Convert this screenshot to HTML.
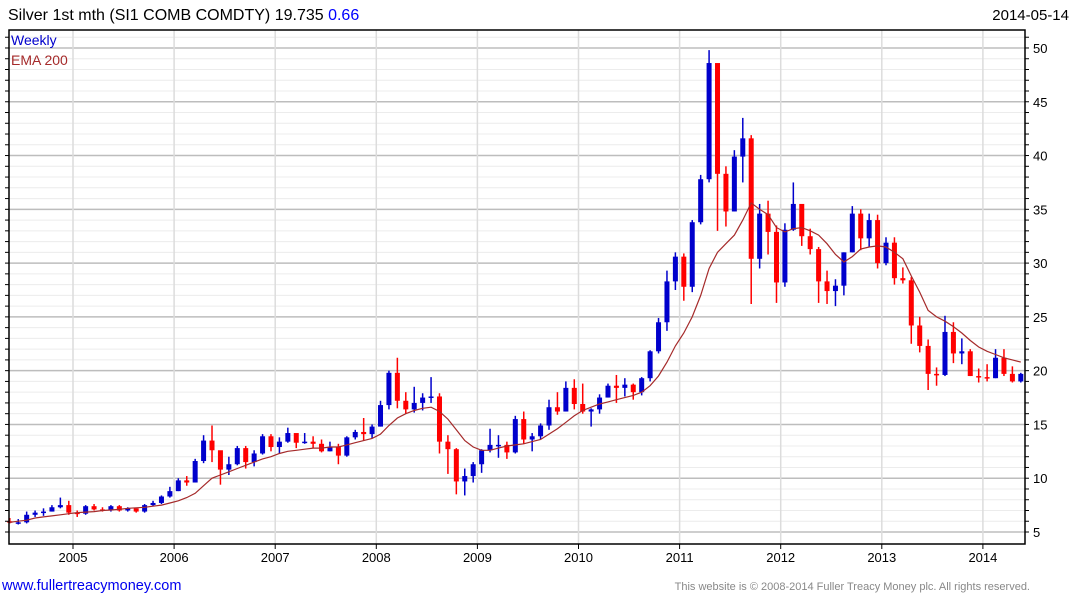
<!DOCTYPE html>
<html><head><meta charset="utf-8">
<style>
body{margin:0;background:#fff;width:1075px;height:600px;overflow:hidden;font-family:"Liberation Sans",Arial,sans-serif;}
svg{display:block}
</style></head>
<body>
<svg id="chart" width="1075" height="600" xmlns="http://www.w3.org/2000/svg" font-family="Liberation Sans, Arial, sans-serif">
<text x="8" y="20" font-size="16" fill="#000">Silver 1st mth (SI1 COMB COMDTY) 19.735 <tspan fill="#0000ff">0.66</tspan></text>
<text x="1069" y="20" font-size="15" fill="#000" text-anchor="end">2014-05-14</text>
<g id="grid"></g>
<g id="marks"></g>
<g id="axes"></g>
<text x="11" y="45" font-size="14" fill="#0000cc">Weekly</text>
<text x="11" y="65" font-size="14" fill="#a52a2a">EMA 200</text>
<text x="2" y="590" font-size="14.5" fill="#0000ee">www.fullertreacymoney.com</text>
<text x="1030" y="590" font-size="11" fill="#888" text-anchor="end">This website is © 2008-2014 Fuller Treacy Money plc. All rights reserved.</text>
</svg>
<script>
const startYear = 2004, startMonth = 5;
const closes = [5.9,5.9,6.6,6.8,6.9,7.3,7.5,6.8,
6.7,7.4,7.1,7.0,7.4,7.0,7.2,6.9,7.5,7.7,8.3,8.8,
9.8,9.6,11.6,13.5,12.6,10.8,11.3,12.8,11.5,12.3,13.9,12.9,
13.4,14.2,13.3,13.4,13.2,12.5,12.9,12.1,13.8,14.3,14.1,14.8,
16.8,19.8,17.2,16.4,17.0,17.5,17.6,13.4,12.7,9.7,10.2,11.3,
12.6,13.1,13.1,12.4,15.5,13.6,13.9,14.9,16.6,16.2,18.4,16.9,
16.2,16.4,17.5,18.6,18.4,18.7,18.0,19.3,21.8,24.5,28.3,30.6,
27.8,33.8,37.8,48.6,38.3,34.8,39.9,41.6,30.4,34.6,32.9,28.2,
33.1,35.5,32.5,31.3,28.3,27.4,27.9,31.0,34.6,32.3,34.0,30.0,
31.9,28.6,28.4,24.2,22.3,19.7,19.6,23.6,21.6,21.8,19.5,19.4,
19.3,21.2,19.7,19.0,19.7];
const highs = [6.3,6.2,6.9,7.0,7.2,7.5,8.2,7.9,
7.0,7.5,7.6,7.3,7.5,7.5,7.3,7.2,7.6,7.9,8.4,9.2,
10.0,10.2,11.8,14.0,14.9,12.5,12.0,13.0,13.0,12.6,14.1,14.1,
13.8,14.7,14.1,14.2,13.9,13.6,13.4,13.2,13.9,14.5,15.6,15.0,
17.2,20.0,21.2,18.0,18.5,17.9,19.4,17.9,14.0,12.8,10.9,11.5,
12.7,14.6,14.0,13.4,15.8,16.2,14.2,15.1,17.3,18.0,19.0,19.2,
18.8,16.5,17.8,18.8,19.6,19.3,18.8,19.4,21.9,24.9,29.3,31.0,
30.9,34.0,38.2,49.8,48.5,39.0,40.5,43.5,41.9,35.5,35.8,33.5,
33.7,37.5,35.4,33.2,31.5,29.3,28.5,31.0,35.3,35.0,34.6,34.5,
32.4,32.4,29.6,28.7,25.0,22.9,20.3,25.1,24.5,23.0,22.0,20.2,
20.6,22.0,22.0,20.4,19.8];
const lows = [5.8,5.7,5.8,6.4,6.5,6.9,7.2,6.6,
6.4,6.6,7.0,6.9,6.9,6.9,6.9,6.8,6.8,7.4,7.6,8.2,
8.8,9.3,9.6,11.4,11.5,9.4,10.3,11.2,10.9,11.1,12.2,12.5,
12.3,13.3,12.8,13.2,12.8,12.4,12.5,11.3,12.0,13.6,13.5,13.7,
14.8,16.4,16.5,16.0,16.1,16.3,17.0,12.3,10.4,8.5,8.4,9.6,
10.5,12.4,11.9,11.8,12.3,13.2,12.5,13.6,14.5,15.9,16.2,16.4,
16.0,14.8,16.0,17.5,17.0,17.6,17.3,17.7,19.0,21.6,23.7,27.5,
26.5,27.3,33.6,37.5,33.0,33.4,34.8,37.5,26.2,29.5,30.8,26.3,
27.8,33.0,31.6,30.8,26.3,26.2,26.0,27.0,31.0,31.2,31.5,29.5,
29.8,28.0,28.1,22.5,21.7,18.2,18.6,19.5,20.7,20.6,19.5,18.9,
19.0,19.3,19.5,18.9,18.9];
const ema200 = [5.9,6.0,6.1,6.3,6.4,6.5,6.6,6.7,
6.8,6.85,6.9,7.0,7.05,7.1,7.2,7.25,7.3,7.4,7.5,7.7,
7.9,8.2,8.6,9.3,10.0,10.3,10.6,10.9,11.2,11.5,11.8,12.0,
12.3,12.5,12.6,12.7,12.8,12.8,12.9,12.9,13.1,13.3,13.5,13.7,
14.1,14.9,15.6,16.0,16.3,16.5,16.6,16.2,15.5,14.5,13.5,12.9,
12.6,12.6,12.8,13.0,13.1,13.2,13.4,13.6,14.1,14.6,15.2,15.8,
16.3,16.6,16.9,17.1,17.3,17.5,17.7,18.0,18.6,19.5,20.8,22.3,
23.5,25.0,27.0,29.5,31.0,31.8,32.6,34.0,35.6,35.0,34.5,33.3,
32.9,33.2,33.3,33.0,32.6,31.8,30.8,30.1,30.6,31.3,31.5,31.6,
31.5,31.0,30.4,28.8,27.3,25.6,25.0,24.6,24.1,23.5,22.8,22.2,
21.8,21.5,21.2,21.0,20.8];
const yTicks = [5,10,15,20,25,30,35,40,45,50];
const xTicks = [2005,2006,2007,2008,2009,2010,2011,2012,2013,2014];
const firstOpen = 6.0;

const NS = "http://www.w3.org/2000/svg";
const L = 9, R = 1025, T = 30, B = 544;
function yScale(v){ return 532 - (v - 5) * 10.756; }
function xScale(t){ return 73 + (t - 2005) * 101.1; }
function monthTime(i){ const m = startMonth - 1 + i; return startYear + Math.floor(m/12) + ((m%12) + 0.5)/12; }
function mk(tag, attrs, parent){ const e = document.createElementNS(NS, tag); for (const k in attrs) e.setAttribute(k, attrs[k]); parent.appendChild(e); return e; }

const grid = document.getElementById('grid');
const axes = document.getElementById('axes');
const marks = document.getElementById('marks');

for (let v = 5; v <= 51; v++) {
  const y = yScale(v);
  const major = v % 5 === 0;
  const ln = mk('line', {x1:L, x2:R, y1:y, y2:y, stroke: major ? '#bdbdbd' : '#ececec', 'stroke-width': major ? 1.5 : 1}, grid);
  
  
  const tk = mk('line', {x1:R, x2:R+4, y1:y, y2:y, stroke:'#000'}, axes);
  
  
  const tl = mk('line', {x1:L-4, x2:L, y1:y, y2:y, stroke:'#000'}, axes);
  
  
}
yTicks.forEach(v => {
  const t = mk('text', {x:R+8, y:yScale(v)+5, 'font-size':13, fill:'#000'}, axes);
  t.textContent = v;
  
  
});
xTicks.forEach(yr => {
  const x = xScale(yr);
  const g = mk('line', {x1:x, x2:x, y1:T, y2:B, stroke:'#dcdcdc', 'stroke-width':1.5}, grid);
  
  
  const tk = mk('line', {x1:x, x2:x, y1:B, y2:B+5, stroke:'#000'}, axes);
  
  
  const t = mk('text', {x:x, y:B+18, 'font-size':13, fill:'#000', 'text-anchor':'middle'}, axes);
  t.textContent = yr;
  
  
});
const frame = mk('path', {d:`M${L},${T}H${R}V${B}H${L}Z`, fill:'none', stroke:'#000', 'stroke-width':1.5}, axes);



// candles
closes.forEach((c, i) => {
  const o = i === 0 ? firstOpen : closes[i-1];
  const x = xScale(monthTime(i));
  const up = c >= o;
  const col = up ? '#0000cc' : '#ff0000';
  const w = mk('line', {x1:x, x2:x, y1:yScale(highs[i]), y2:yScale(lows[i]), stroke:col, 'stroke-width':1.5}, marks);
  
  
  const yt = yScale(Math.max(o,c)), yb = yScale(Math.min(o,c));
  const b = mk('rect', {x:x-2.5, y:yt, width:5, height:Math.max(1.5, yb-yt), fill:col}, marks);
  
  
});
// EMA
const pts = ema200.map((v,i) => xScale(monthTime(i)).toFixed(1) + ',' + yScale(v).toFixed(1)).join(' ');
const ema = mk('polyline', {points:pts, fill:'none', stroke:'#a52a2a', 'stroke-width':1.2}, marks);


</script>
</body></html>
